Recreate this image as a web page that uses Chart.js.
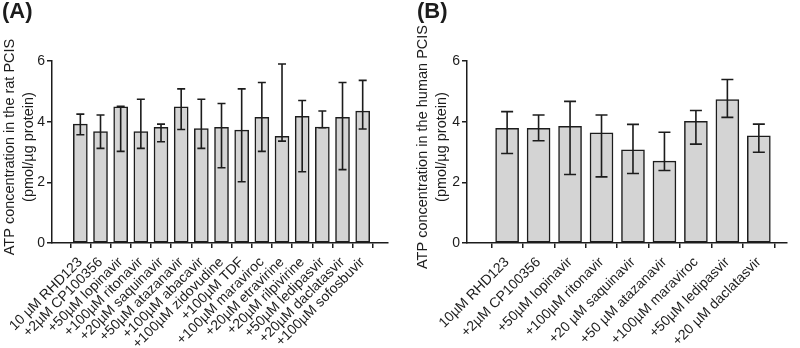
<!DOCTYPE html>
<html><head><meta charset="utf-8">
<script src="https://cdn.jsdelivr.net/npm/chart.js@4/dist/chart.umd.min.js"></script>
<style>
html,body{margin:0;padding:0;background:#fff;}
#wrap{position:relative;width:800px;height:348px;overflow:hidden;}
.panel{position:absolute;top:0;width:400px;height:348px;}
</style></head><body>
<div id="wrap">
<div class="panel" style="left:0"><canvas id="cA" width="400" height="348"></canvas></div>
<div class="panel" style="left:400px"><canvas id="cB" width="400" height="348"></canvas></div>
</div>
<script>
// ---- data: panel A (rat PCIS) ----
const ratLabels = ["10 µM RHD123","+2µM CP100356","+50µM lopinavir","+100µM ritonavir","+20µM saquinavir","+50µM atazanavir","+100µM abacavir","+100µM zidovudine","+100µM TDF","+100µM maraviroc","+20µM etravirine","+20µM rilpivirine","+50µM ledipasvir","+20µM daclatasvir","+100µM sofosbuvir"];
const ratMean = [3.92,3.67,4.49,3.67,3.81,4.49,3.77,3.81,3.72,4.14,3.52,4.18,3.82,4.14,4.35];
const ratLow  = [3.57,3.12,3.02,3.12,3.34,3.74,3.12,2.48,2.02,3.02,3.36,2.35,3.80,2.42,3.76];
const ratHigh = [4.25,4.22,4.51,4.74,3.92,5.08,4.74,4.60,5.08,5.29,5.90,4.70,4.35,5.29,5.36];
// ---- data: panel B (human PCIS) ----
const humLabels = ["10µM RHD123","+2µM CP100356","+50µM lopinavir","+100µM ritonavir","+20 µM saquinavir","+50 µM atazanavir","+100µM maraviroc","+50µM ledipasvir","+20 µM daclatasvir"];
const humMean = [3.78,3.78,3.85,3.63,3.07,2.70,4.01,4.73,3.53];
const humLow  = [2.95,3.37,2.26,2.18,2.29,2.39,3.26,4.14,2.99];
const humHigh = [4.33,4.22,4.67,4.22,3.91,3.65,4.37,5.39,3.92];
const yTickValues = [0,2,4,6];
const ratTitle = ["ATP concentration in the rat PCIS","(pmol/µg protein)"];
const humTitle = ["ATP concentration in the human PCIS","(pmol/µg protein)"];

const FONT = "'Liberation Sans', Arial, sans-serif";
const INK = '#1c1c1c';

const errorBars = {
  id: 'errorBars',
  afterDatasetsDraw(chart, args, o) {
    const {ctx, scales:{x, y}} = chart;
    const ds = chart.data.datasets[0];
    ctx.save();
    ctx.strokeStyle = INK; ctx.lineWidth = 1.6; ctx.lineCap = 'butt';
    ds.errLow.forEach((lo, i) => {
      const px = x.getPixelForValue(i);
      const yl = y.getPixelForValue(lo), yh = y.getPixelForValue(ds.errHigh[i]);
      const c = o.cap / 2;
      ctx.beginPath();
      ctx.moveTo(px, yl); ctx.lineTo(px, yh);
      ctx.moveTo(px - c, yl); ctx.lineTo(px + c, yl);
      ctx.moveTo(px - c, yh); ctx.lineTo(px + c, yh);
      ctx.stroke();
    });
    ctx.restore();
  }
};

const decor = {
  id: 'decor',
  afterDraw(chart, args, o) {
    const ctx = chart.ctx;
    ctx.save();
    ctx.fillStyle = INK;
    ctx.font = 'bold 22px ' + FONT;
    ctx.textAlign = 'left'; ctx.textBaseline = 'middle';
    ctx.fillText(o.panel, o.panelX, 12);
    ctx.font = '14.5px ' + FONT;
    ctx.textAlign = 'center';
    o.lines.forEach((t, k) => {
      ctx.save();
      ctx.translate(o.titleX[k], o.titleY);
      ctx.rotate(-Math.PI / 2);
      ctx.fillText(t, 0, 0);
      ctx.restore();
    });
    ctx.restore();
  }
};

function makeChart(id, labels, mean, low, high, opt) {
  return new Chart(document.getElementById(id), {
    type: 'bar',
    data: {
      datasets: [{
        data: mean.map((v, i) => ({x: i, y: v})),
        errLow: low, errHigh: high,
        backgroundColor: '#d4d4d4',
        borderColor: INK,
        borderWidth: 1.5,
        borderSkipped: false,
        barThickness: opt.bar
      }]
    },
    options: {
      responsive: false,
      animation: false,
      layout: { padding: { left: 0, right: opt.right, top: 61, bottom: 0 } },
      plugins: {
        legend: { display: false },
        tooltip: { enabled: false },
        errorBars: { cap: opt.cap },
        decor: { panel: opt.panel, panelX: opt.panelX, lines: opt.title, titleX: opt.titleX, titleY: 147 }
      },
      scales: {
        x: {
          type: 'linear', min: opt.xmin, max: opt.xmax,
          afterBuildTicks: s => { s.ticks = labels.map((_, i) => ({value: i})); },
          afterFit: s => { s.height = 105; },
          grid: { display: true, drawOnChartArea: false, drawTicks: true, tickLength: 5, color: INK, lineWidth: 1.5 },
          border: { display: true, color: INK, width: 1.5 },
          ticks: { autoSkip: false, maxRotation: 45, minRotation: 45, padding: 6,
                   font: { size: 14, family: FONT }, color: INK,
                   callback: v => labels[v] }
        },
        y: {
          min: 0, max: 6,
          afterBuildTicks: s => { s.ticks = yTickValues.map(v => ({value: v})); },
          afterFit: s => { s.width = opt.yw; },
          grid: { display: true, drawOnChartArea: false, drawTicks: true, tickLength: 5, color: INK, lineWidth: 1.5 },
          border: { display: true, color: INK, width: 1.5 },
          ticks: { padding: 2, font: { size: 14, family: FONT }, color: INK }
        }
      }
    },
    plugins: [errorBars, decor]
  });
}

makeChart('cA', ratLabels, ratMean, ratLow, ratHigh,
  { bar: 14, cap: 8, right: 12, yw: 52, xmin: -0.85, xmax: 14.7,
    panel: '(A)', panelX: 2, title: ratTitle, titleX: [10, 29] });
makeChart('cB', humLabels, humMean, humLow, humHigh,
  { bar: 23, cap: 12, right: 13, yw: 67, xmin: -0.71, xmax: 8.33,
    panel: '(B)', panelX: 17, title: humTitle, titleX: [23, 42] });
</script>
</body></html>
